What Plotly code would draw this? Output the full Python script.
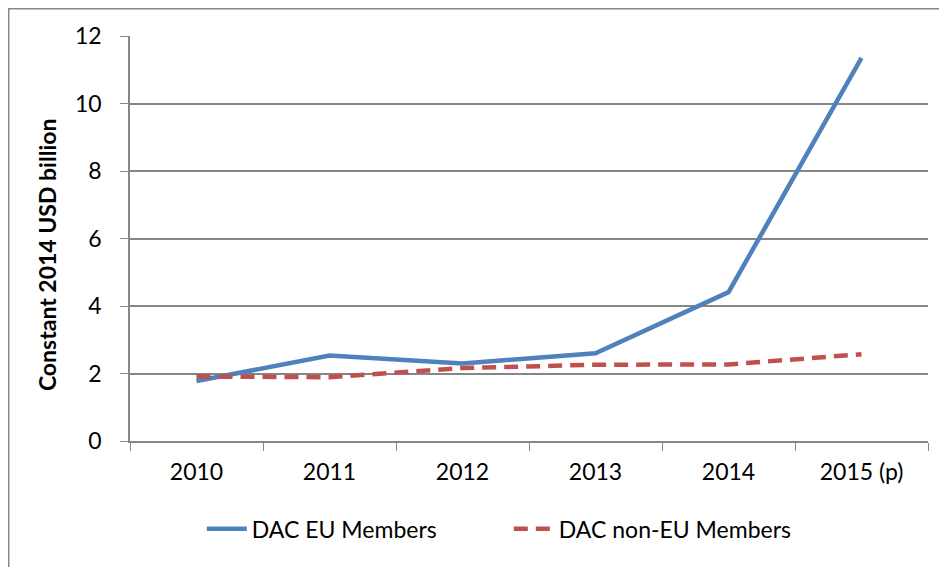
import plotly.graph_objects as go

categories = ["2010", "2011", "2012", "2013", "2014", "2015 (p)"]
eu_values = [1.78, 2.53, 2.30, 2.60, 4.41, 11.35]
non_eu_values = [1.91, 1.89, 2.16, 2.26, 2.27, 2.57]
y_ticks = [0, 2, 4, 6, 8, 10, 12]

FONT = "Lato, Carlito, Calibri, 'Liberation Sans', sans-serif"

fig = go.Figure()
fig.add_trace(go.Scatter(x=categories, y=eu_values, mode="lines", name="DAC EU Members",
                         line=dict(color="#4F81BD", width=4.5)))
fig.add_trace(go.Scatter(x=categories, y=non_eu_values, mode="lines", name="DAC non-EU Members",
                         line=dict(color="#C0504D", width=4.5, dash="14px,8px")))

fig.update_layout(
    width=947, height=567,
    margin=dict(l=122, r=27, t=28, b=134),
    paper_bgcolor="white", plot_bgcolor="white",
    font=dict(family=FONT, size=22, color="black"),
    showlegend=True,
    legend=dict(orientation="h", x=0.090, xanchor="left", y=-0.217, yanchor="middle",
                font=dict(size=23), entrywidth=252, itemwidth=40),
    xaxis=dict(type="category", tickson="boundaries", ticks="outside", ticklen=8,
               tickcolor="#868686", showline=True, linecolor="#868686", linewidth=1.5,
               showgrid=False, range=[-0.5, 5.5], tickfont=dict(size=23),
               ticklabelstandoff=10),
    yaxis=dict(range=[0, 12], tickvals=y_ticks, ticks="outside", ticklen=8,
               tickcolor="#868686", showline=True, linecolor="#868686", linewidth=1.5,
               showgrid=True, gridcolor="#868686", gridwidth=1.5, zeroline=False,
               tickfont=dict(size=23), ticklabelstandoff=14),
    annotations=[dict(text="<b>Constant 2014 USD billion</b>", textangle=-90,
                      xref="paper", yref="paper", x=-0.104, y=0.459,
                      xanchor="center", yanchor="middle", showarrow=False,
                      font=dict(size=23))],
    shapes=[dict(type="rect", xref="paper", yref="paper", x0=-0.152, x1=1.2, y0=-0.4, y1=1.0673,
                 line=dict(color="#868686", width=1.5), fillcolor="rgba(0,0,0,0)", layer="below")],
)

fig.write_html("out.html")
